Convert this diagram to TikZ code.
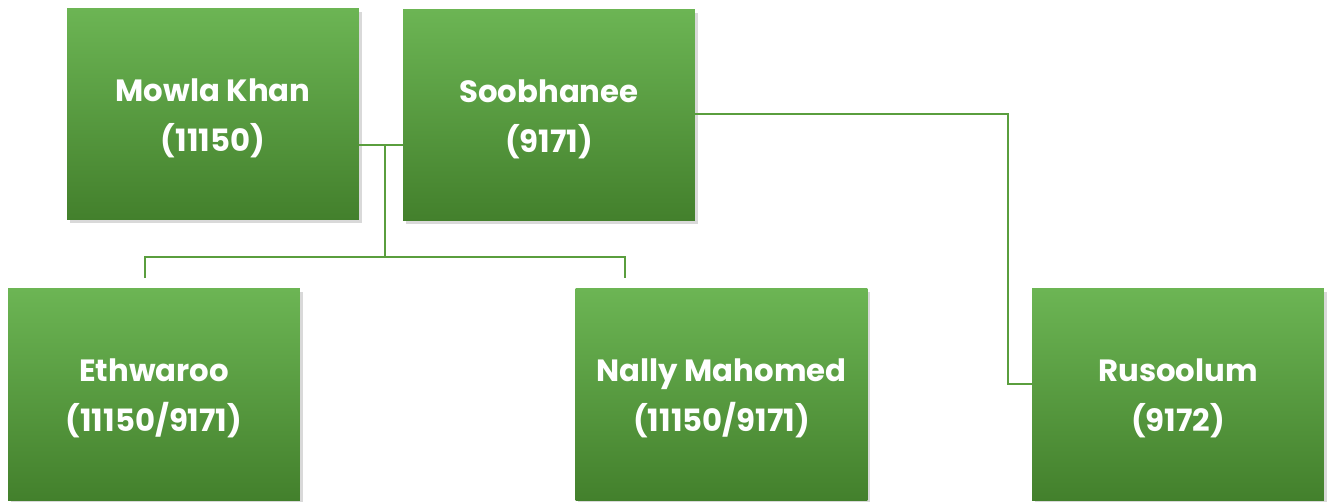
\documentclass[tikz,border=0pt]{standalone}
\usepackage{fontspec}
\setmainfont{Poppins}
\usetikzlibrary{shadows,calc}
\definecolor{gtop}{HTML}{6CB554}
\definecolor{gbot}{HTML}{43802C}
\definecolor{lnk}{HTML}{5A9E3E}
\newcommand{\dn}{\rule{0pt}{17.5pt}}
\tikzset{
  person/.style={rectangle, minimum width=5.84cm, minimum height=4.24cm, inner sep=0pt,
    top color=gtop, bottom color=gbot, draw=none,
    drop shadow={opacity=0.25, shadow xshift=1.5pt, shadow yshift=-2pt, fill=black!60},
    text=white, align=center, font=\fontsize{17.5}{28.5}\selectfont\bfseries},
  link/.style={draw=lnk, line width=1.1pt}
}
\begin{document}
\begin{tikzpicture}[x=0.02cm,y=0.02cm]
\useasboundingbox (0,0) rectangle (1330,-501);
\clip (0,0) rectangle (1330,-501);
\node[person] (mowla) at (213,-114) {\dn Mowla Khan\\(11150)};
\node[person] (soob) at (549,-115) {\dn Soobhanee\\(9171)};
\node[person] (eth) at (154,-394.5) {\dn Ethwaroo\\(11150/9171)};
\node[person] (nally) at (721.5,-394.5) {\dn Nally Mahomed\\(11150/9171)};
\node[person] (rus) at (1178,-394.5) {\dn Rusoolum\\(9172)};
\coordinate (m) at (385,-145);
\coordinate (bar) at (385,-257);
\coordinate (el) at (145,-257);
\coordinate (er) at (625,-257);
\coordinate (eend) at (145,-278);
\coordinate (nend) at (625,-278);
\coordinate (rx) at (1008,-114);
\coordinate (ry) at (1008,-384);
\draw[link] (mowla.east |- m) -- (soob.west |- m);
\draw[link] (m) -- (bar);
\draw[link] (eend) -- (el) -- (er) -- (nend);
\draw[link] (soob.east |- rx) -- (rx) -- (ry) -- (rus.west |- ry);
\end{tikzpicture}
\end{document}
